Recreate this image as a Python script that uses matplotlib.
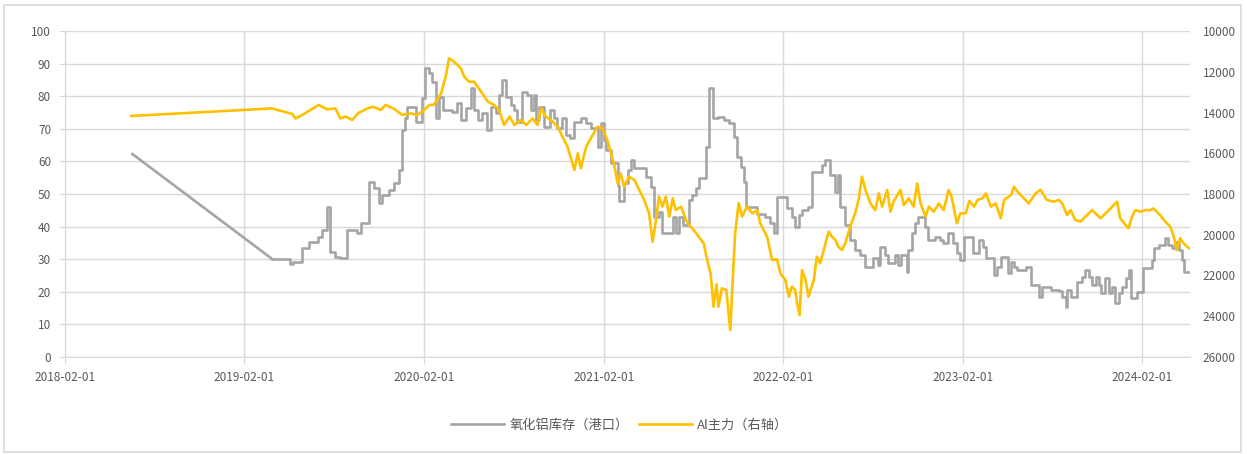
import pandas as pd
import matplotlib
matplotlib.use("Agg")
import matplotlib.pyplot as plt
import matplotlib.dates as mdates
from matplotlib.patches import Rectangle

plt.rcParams['font.family'] = ['Noto Sans CJK SC', 'DejaVu Sans']

# 氧化铝库存（港口）, weekly readings (value holds until the next date)
stock_dates = [
    "2018-06-16", "2019-03-29", "2019-05-05", "2019-05-11", "2019-05-29", "2019-06-12",
    "2019-07-01", "2019-07-09", "2019-07-19", "2019-07-24", "2019-08-05", "2019-08-15",
    "2019-08-29", "2019-09-18", "2019-09-25", "2019-10-12", "2019-10-22", "2019-11-01",
    "2019-11-08", "2019-11-22", "2019-12-02", "2019-12-12", "2019-12-19", "2019-12-25",
    "2019-12-29", "2020-01-15", "2020-01-28", "2020-02-03", "2020-02-12", "2020-02-18",
    "2020-02-25", "2020-03-03", "2020-03-10", "2020-03-30", "2020-04-09", "2020-04-16",
    "2020-04-26", "2020-05-06", "2020-05-13", "2020-05-20", "2020-05-30", "2020-06-09",
    "2020-06-16", "2020-06-26", "2020-07-03", "2020-07-08", "2020-07-17", "2020-07-27",
    "2020-08-03", "2020-08-09", "2020-08-19", "2020-08-29", "2020-09-05", "2020-09-11",
    "2020-09-15", "2020-09-22", "2020-10-02", "2020-10-15", "2020-10-22", "2020-10-29",
    "2020-11-08", "2020-11-15", "2020-11-25", "2020-12-02", "2020-12-16", "2020-12-26",
    "2021-01-05", "2021-01-19", "2021-01-26", "2021-02-02", "2021-02-05", "2021-02-15",
    "2021-03-01", "2021-03-04", "2021-03-14", "2021-03-21", "2021-03-28", "2021-04-04",
    "2021-04-27", "2021-05-07", "2021-05-14", "2021-05-24", "2021-05-31", "2021-06-21",
    "2021-06-27", "2021-07-04", "2021-07-11", "2021-07-24", "2021-07-31", "2021-08-07",
    "2021-08-14", "2021-08-27", "2021-09-03", "2021-09-10", "2021-09-22", "2021-10-03",
    "2021-10-13", "2021-10-23", "2021-10-30", "2021-11-06", "2021-11-12", "2021-11-18",
    "2021-12-10", "2021-12-26", "2022-01-05", "2022-01-12", "2022-01-19", "2022-02-08",
    "2022-02-18", "2022-02-25", "2022-03-04", "2022-03-11", "2022-03-24", "2022-03-31",
    "2022-04-21", "2022-04-27", "2022-05-07", "2022-05-18", "2022-05-24", "2022-05-27",
    "2022-06-07", "2022-06-17", "2022-06-27", "2022-07-07", "2022-07-17", "2022-08-03",
    "2022-08-13", "2022-08-16", "2022-08-27", "2022-09-02", "2022-09-16", "2022-09-22",
    "2022-09-29", "2022-10-10", "2022-10-13", "2022-10-20", "2022-10-27", "2022-11-02",
    "2022-11-16", "2022-11-23", "2022-12-06", "2022-12-16", "2022-12-23", "2023-01-02",
    "2023-01-13", "2023-01-20", "2023-01-27", "2023-02-04", "2023-02-21", "2023-03-06",
    "2023-03-13", "2023-03-20", "2023-04-06", "2023-04-12", "2023-04-19", "2023-05-03",
    "2023-05-10", "2023-05-16", "2023-05-23", "2023-06-09", "2023-06-19", "2023-07-06",
    "2023-07-13", "2023-07-30", "2023-08-15", "2023-08-22", "2023-08-29", "2023-09-01",
    "2023-09-08", "2023-09-21", "2023-10-01", "2023-10-08", "2023-10-15", "2023-10-22",
    "2023-10-29", "2023-11-04", "2023-11-08", "2023-11-18", "2023-11-25", "2023-12-02",
    "2023-12-08", "2023-12-15", "2023-12-22", "2023-12-29", "2024-01-04", "2024-01-09",
    "2024-01-22", "2024-02-03", "2024-02-20", "2024-02-24", "2024-03-05", "2024-03-19",
    "2024-03-25", "2024-04-01", "2024-04-08", "2024-04-15", "2024-04-22", "2024-04-25",
    "2024-05-05",
]
stock_vals = [
    62.5, 30.1, 28.5, 29.2, 33.3, 35.4,
    36.9, 39.0, 46.1, 32.3, 30.8, 30.3,
    39.0, 37.9, 41.0, 53.8, 51.7, 47.1,
    49.7, 51.2, 53.3, 57.4, 69.6, 73.2,
    76.8, 72.2, 79.4, 88.5, 87.0, 84.5,
    73.2, 79.8, 75.8, 75.3, 77.8, 72.7,
    76.3, 82.4, 75.8, 72.7, 74.7, 69.6,
    76.8, 74.7, 80.4, 85.0, 79.8, 77.3,
    75.8, 72.2, 81.4, 80.4, 75.8, 80.4,
    72.7, 76.8, 70.6, 75.8, 73.2, 70.1,
    73.2, 68.1, 67.1, 72.2, 73.2, 71.7,
    70.1, 64.5, 71.7, 66.6, 63.5, 59.4,
    52.5, 47.8, 53.3, 57.4, 60.4, 57.9,
    55.3, 52.2, 43.0, 44.6, 37.9, 43.0,
    37.9, 43.0, 40.5, 48.2, 49.7, 51.7,
    54.8, 64.5, 82.4, 73.2, 73.7, 72.7,
    71.7, 67.6, 61.4, 58.4, 53.8, 46.1,
    44.0, 43.0, 41.0, 37.9, 49.2, 45.6,
    43.0, 40.0, 43.6, 45.1, 46.1, 56.8,
    58.9, 60.4, 55.8, 50.7, 55.8, 46.1,
    40.5, 35.9, 32.8, 31.3, 27.7, 30.3,
    28.2, 33.8, 31.3, 28.7, 31.3, 28.2,
    31.3, 26.2, 32.8, 37.9, 41.0, 43.0,
    40.0, 35.9, 36.9, 35.9, 34.9, 37.9,
    34.9, 31.8, 29.8, 36.9, 31.8, 35.9,
    33.8, 30.3, 25.2, 27.7, 30.8, 25.7,
    29.2, 27.7, 26.7, 27.7, 22.1, 18.5,
    21.6, 20.6, 20.1, 18.5, 15.4, 20.6,
    18.5, 23.1, 24.6, 26.7, 24.6, 22.1,
    24.6, 22.1, 19.5, 24.1, 19.5, 21.6,
    16.5, 19.5, 21.6, 24.1, 26.7, 18.0,
    20.0, 27.2, 29.8, 33.3, 34.4, 36.4,
    34.4, 33.3, 35.4, 32.8, 29.8, 26.2,
    26.2,
]

# Al主力（右轴）
al_dates = [
    "2018-06-16", "2019-03-29", "2019-05-09", "2019-05-16", "2019-05-26", "2019-06-15",
    "2019-07-02", "2019-07-19", "2019-08-05", "2019-08-15", "2019-08-26", "2019-09-08",
    "2019-09-21", "2019-10-09", "2019-10-21", "2019-11-05", "2019-11-15", "2019-12-01",
    "2019-12-19", "2020-01-05", "2020-01-18", "2020-01-29", "2020-02-12", "2020-02-21",
    "2020-03-07", "2020-03-17", "2020-03-23", "2020-04-02", "2020-04-16", "2020-04-23",
    "2020-05-03", "2020-05-13", "2020-05-27", "2020-06-10", "2020-06-23", "2020-07-03",
    "2020-07-13", "2020-07-24", "2020-08-03", "2020-08-16", "2020-08-27", "2020-09-09",
    "2020-09-19", "2020-09-26", "2020-10-06", "2020-10-20", "2020-10-30", "2020-11-09",
    "2020-11-19", "2020-12-03", "2020-12-10", "2020-12-16", "2020-12-27", "2021-01-09",
    "2021-01-19", "2021-01-29", "2021-02-08", "2021-02-22", "2021-03-01", "2021-03-07",
    "2021-03-14", "2021-03-24", "2021-04-04", "2021-04-14", "2021-04-24", "2021-05-04",
    "2021-05-11", "2021-05-18", "2021-05-24", "2021-05-31", "2021-06-07", "2021-06-14",
    "2021-06-21", "2021-06-27", "2021-07-08", "2021-07-18", "2021-07-24", "2021-08-03",
    "2021-08-13", "2021-08-23", "2021-08-30", "2021-09-06", "2021-09-12", "2021-09-18",
    "2021-09-22", "2021-09-29", "2021-10-08", "2021-10-16", "2021-10-22", "2021-10-26",
    "2021-11-02", "2021-11-09", "2021-11-19", "2021-11-30", "2021-12-10", "2021-12-16",
    "2021-12-30", "2022-01-09", "2022-01-19", "2022-01-26", "2022-02-05", "2022-02-12",
    "2022-02-18", "2022-02-25", "2022-03-01", "2022-03-06", "2022-03-11", "2022-03-18",
    "2022-03-24", "2022-04-04", "2022-04-10", "2022-04-17", "2022-04-24", "2022-05-04",
    "2022-05-11", "2022-05-18", "2022-05-24", "2022-05-31", "2022-06-07", "2022-06-17",
    "2022-06-27", "2022-07-04", "2022-07-11", "2022-07-18", "2022-07-28", "2022-08-07",
    "2022-08-14", "2022-08-21", "2022-08-31", "2022-09-07", "2022-09-13", "2022-09-27",
    "2022-10-04", "2022-10-14", "2022-10-24", "2022-10-31", "2022-11-07", "2022-11-17",
    "2022-11-24", "2022-12-04", "2022-12-14", "2022-12-24", "2023-01-03", "2023-01-09",
    "2023-01-20", "2023-01-27", "2023-02-07", "2023-02-14", "2023-02-24", "2023-03-03",
    "2023-03-13", "2023-03-20", "2023-03-30", "2023-04-09", "2023-04-19", "2023-04-26",
    "2023-05-10", "2023-05-16", "2023-05-23", "2023-06-02", "2023-06-15", "2023-06-29",
    "2023-07-09", "2023-07-22", "2023-08-05", "2023-08-15", "2023-08-22", "2023-09-01",
    "2023-09-08", "2023-09-18", "2023-09-28", "2023-10-12", "2023-10-22", "2023-10-29",
    "2023-11-08", "2023-11-22", "2023-12-05", "2023-12-12", "2023-12-18", "2023-12-29",
    "2024-01-04", "2024-01-11", "2024-01-18", "2024-01-28", "2024-02-07", "2024-02-17",
    "2024-02-24", "2024-03-08", "2024-03-19", "2024-03-29", "2024-04-05", "2024-04-11",
    "2024-04-18", "2024-04-25", "2024-05-02", "2024-05-07",
]
al_vals = [
    14170, 13800, 14070, 14290, 14170, 13880,
    13630, 13840, 13800, 14290, 14200, 14370,
    14020, 13800, 13720, 13880, 13630, 13800,
    14120, 14040, 14120, 13960, 13630, 13630,
    13060, 12160, 11340, 11500, 11830, 12240,
    12490, 12490, 12970, 13470, 13630, 13880,
    14610, 14200, 14610, 14370, 14610, 14290,
    14610, 13800, 14200, 14450, 14700, 15190,
    15680, 16820, 16000, 16740, 15680, 15110,
    14700, 14780, 15350, 16580, 17480, 16990,
    17640, 17150, 17310, 17800, 18290, 18950,
    20340, 19270, 18130, 18620, 18130, 19110,
    18210, 18790, 18620, 19280, 19520, 19770,
    20100, 20420, 21240, 21900, 23530, 22430,
    23530, 22630, 22710, 24680, 21730, 19920,
    18450, 19110, 18620, 18950, 18790, 19440,
    20100, 21240, 21200, 21890, 22220, 23040,
    22550, 22710, 23370, 23940, 21730, 22220,
    23040, 22220, 21080, 21400, 20750, 19850,
    20100, 20260, 20590, 20750, 20420, 19600,
    18950, 18290, 17150, 17800, 18460, 18790,
    17970, 18620, 17800, 18870, 18380, 17800,
    18540, 18210, 18620, 17480, 18460, 19110,
    18620, 18870, 18460, 18790, 17800, 18130,
    19440, 18950, 18950, 18340, 18620, 18290,
    18210, 17970, 18620, 18460, 19190, 18290,
    18050, 17640, 17880, 18130, 18460, 17970,
    17800, 18290, 18380, 18290, 18460, 19030,
    18790, 19280, 19360, 19030, 18790, 18950,
    19190, 18870, 18540, 18380, 19190, 19520,
    19680, 19110, 18790, 18870, 18790, 18790,
    18710, 19030, 19360, 19600, 20100, 20750,
    20170, 20420, 20590, 20670,
]

x_ticks = ["2018-02-01", "2019-02-01", "2020-02-01", "2021-02-01",
           "2022-02-01", "2023-02-01", "2024-02-01"]
x_end = "2024-05-08"
left_ticks = list(range(0, 101, 10))
right_ticks = list(range(10000, 26001, 2000))

stock_x = pd.to_datetime(stock_dates)
al_x = pd.to_datetime(al_dates)

grid_c = "#D9D9D9"
text_c = "#595959"
gray_c = "#A5A5A5"
gold_c = "#FFC000"

fig = plt.figure(figsize=(12.47, 4.54), dpi=100)
fig.patches.append(Rectangle((4 / 1247, 2 / 454), 1237 / 1247, 447 / 454,
                             transform=fig.transFigure, fill=False,
                             edgecolor=grid_c, linewidth=1.2))
ax = fig.add_axes([65 / 1247, 1 - 357 / 454, (1190 - 65) / 1247, (357 - 31) / 454])
ax2 = ax.twinx()

# gray: gap before 2019-03 is a straight line, then weekly steps
ax.plot(stock_x[:2], stock_vals[:2], color=gray_c, lw=1.9, solid_capstyle='butt')
l1, = ax.step(stock_x[1:], stock_vals[1:], where='post', color=gray_c, lw=1.9,
              label="氧化铝库存（港口）")
l2, = ax2.plot(al_x, al_vals, color=gold_c, lw=1.9, label="Al主力（右轴）")

ax.set_xlim(pd.Timestamp(x_ticks[0]), pd.Timestamp(x_end))
ax.set_ylim(0, 100)
ax.set_yticks(left_ticks)
ax.set_xticks(pd.to_datetime(x_ticks))
ax.xaxis.set_major_formatter(mdates.DateFormatter("%Y-%m-%d"))
ax.grid(True, color=grid_c, lw=1)
ax.set_axisbelow(True)

ax2.set_ylim(26000, 10000)
ax2.set_yticks(right_ticks)

for s in ["top", "right"]:
    ax.spines[s].set_visible(False)
for s in ax2.spines.values():
    s.set_visible(False)
ax.spines["left"].set_color(grid_c)
ax.spines["bottom"].set_color(grid_c)

ax.tick_params(axis='x', colors=text_c, labelsize=8.5, length=5, color=grid_c, pad=5)
ax.tick_params(axis='y', colors=text_c, labelsize=8.5, length=4, color=grid_c, pad=6)
ax2.tick_params(axis='y', colors=text_c, labelsize=8.5, length=0, pad=9)

fig.legend(handles=[l1, l2], loc='center', bbox_to_anchor=(0.497, 1 - 425 / 454),
           ncol=2, frameon=False, fontsize=9.5, labelcolor=text_c,
           handlelength=4.0, columnspacing=0.8, handletextpad=0.4)

fig.savefig("out.png", dpi=100)
